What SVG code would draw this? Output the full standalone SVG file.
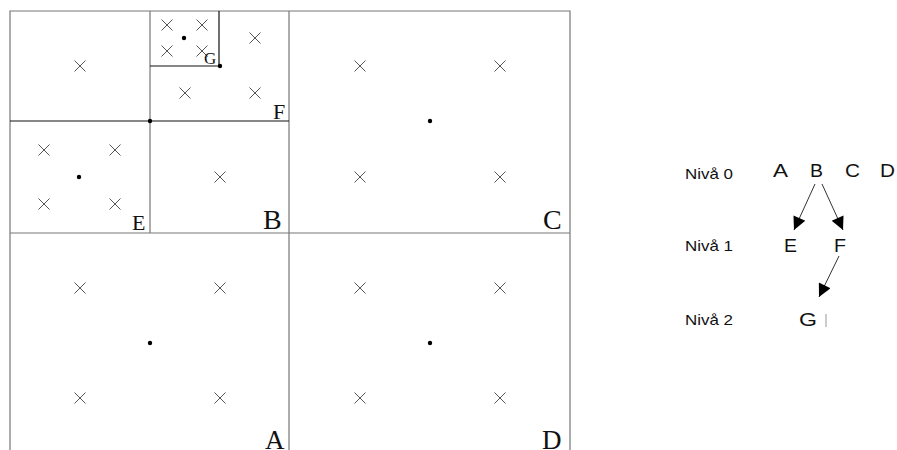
<svg xmlns="http://www.w3.org/2000/svg" width="897" height="450" viewBox="0 0 897 450">
<defs>
<style>
.g{stroke:#777;stroke-width:1.2;fill:none}
.k{stroke:#111;stroke-width:1.2;fill:none}
.x{stroke:#555;stroke-width:1;fill:none}
.d{fill:#000}
.q{font-family:"Liberation Serif",serif;fill:#111}
.s{font-family:"Liberation Sans",Arial,sans-serif;fill:#111}
.a{stroke:#333;stroke-width:1;fill:none}
</style>
<symbol id="cr" overflow="visible"><path d="M-5.5,-5.5L5.5,5.5M-5.5,5.5L5.5,-5.5" class="x"/></symbol>
<marker id="ah" viewBox="0 0 10 10" refX="10" refY="5" markerWidth="17" markerHeight="13" markerUnits="userSpaceOnUse" orient="auto"><path d="M0,0L10,5L0,10z" fill="#000"/></marker>
</defs>
<rect width="897" height="450" fill="#fff"/>
<g id="grid">
<path class="g" d="M10,450V11H570V450M289,11V450M10,233H570M150,11V233"/>
<path class="k" d="M10,121H289M150,66H219V11"/>
</g>
<g id="quad-B-topleft"><use href="#cr" x="80" y="66"/></g>
<g id="quad-G">
<use href="#cr" x="167" y="25"/><use href="#cr" x="202" y="25"/><use href="#cr" x="167" y="51"/><use href="#cr" x="202" y="51"/>
<circle class="d" cx="184" cy="38" r="2.2"/>
<text class="q" x="204" y="64" font-size="17">G</text>
</g>
<g id="quad-F">
<use href="#cr" x="255" y="38"/><use href="#cr" x="185" y="93"/><use href="#cr" x="255" y="93"/>
<circle class="d" cx="220" cy="66" r="2.2"/>
<text class="q" x="273" y="119" font-size="22">F</text>
</g>
<g id="quad-E">
<use href="#cr" x="44" y="150"/><use href="#cr" x="115" y="150"/><use href="#cr" x="44" y="204"/><use href="#cr" x="115" y="204"/>
<circle class="d" cx="79" cy="177" r="2.2"/>
<text class="q" x="132" y="230" font-size="22">E</text>
</g>
<g id="quad-B">
<use href="#cr" x="220" y="177"/>
<circle class="d" cx="150" cy="121" r="2.2"/>
<text class="q" x="263" y="229" font-size="28">B</text>
</g>
<g id="quad-C">
<use href="#cr" x="360" y="66"/><use href="#cr" x="500" y="66"/><use href="#cr" x="360" y="177"/><use href="#cr" x="500" y="177"/>
<circle class="d" cx="430" cy="121" r="2.2"/>
<text class="q" x="543" y="229" font-size="28">C</text>
</g>
<g id="quad-A">
<use href="#cr" x="80" y="288"/><use href="#cr" x="220" y="288"/><use href="#cr" x="80" y="398"/><use href="#cr" x="220" y="398"/>
<circle class="d" cx="150" cy="343" r="2.2"/>
<text class="q" x="265" y="449" font-size="27">A</text>
</g>
<g id="quad-D">
<use href="#cr" x="360" y="288"/><use href="#cr" x="500" y="288"/><use href="#cr" x="360" y="398"/><use href="#cr" x="500" y="398"/>
<circle class="d" cx="430" cy="343" r="2.2"/>
<text class="q" x="542" y="449" font-size="27">D</text>
</g>
<g id="levels" class="s" font-size="15">
<text x="685" y="179" textLength="48" lengthAdjust="spacingAndGlyphs">Nivå 0</text>
<text x="685" y="251" textLength="48" lengthAdjust="spacingAndGlyphs">Nivå 1</text>
<text x="685" y="325" textLength="48" lengthAdjust="spacingAndGlyphs">Nivå 2</text>
</g>
<g id="tree" class="s" font-size="19">
<text id="tA" x="773" y="177" textLength="15" lengthAdjust="spacingAndGlyphs">A</text>
<text id="tB" x="810" y="177" textLength="13" lengthAdjust="spacingAndGlyphs">B</text>
<text id="tC" x="845" y="177" textLength="15" lengthAdjust="spacingAndGlyphs">C</text>
<text id="tD" x="880" y="177" textLength="15" lengthAdjust="spacingAndGlyphs">D</text>
<text id="tE" x="784" y="252" textLength="13" lengthAdjust="spacingAndGlyphs">E</text>
<text id="tF" x="834" y="252" textLength="12" lengthAdjust="spacingAndGlyphs">F</text>
<text id="tG" x="799" y="326" textLength="18" lengthAdjust="spacingAndGlyphs">G</text>
</g>
<g id="connectors">
<line class="a" x1="815" y1="184" x2="794" y2="230" marker-end="url(#ah)"/>
<line class="a" x1="822" y1="184" x2="843" y2="230" marker-end="url(#ah)"/>
<line class="a" x1="839" y1="256" x2="819" y2="297" marker-end="url(#ah)"/>
<line stroke="#999" stroke-width="1" x1="826" y1="314" x2="826" y2="327"/>
</g>
</svg>
